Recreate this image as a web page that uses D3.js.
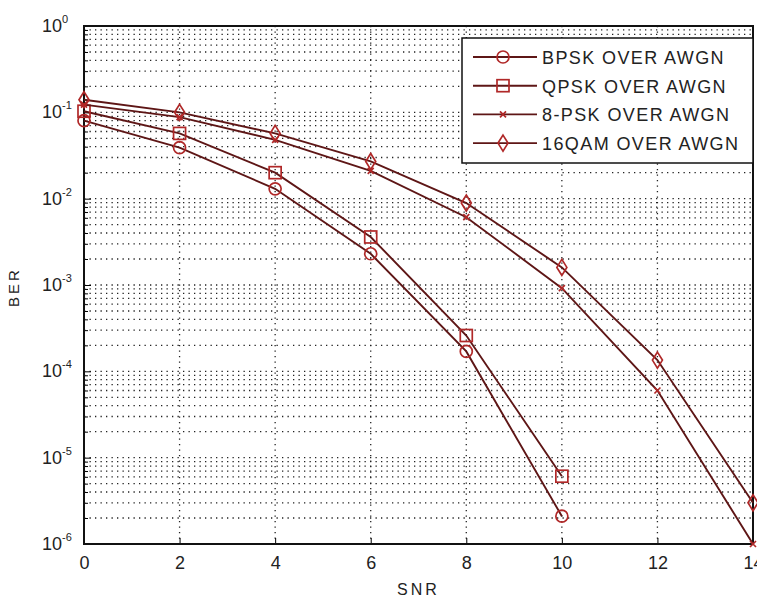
<!DOCTYPE html>
<html>
<head>
<meta charset="utf-8">
<script src="https://cdn.jsdelivr.net/npm/d3@7"></script>
<style>
  body { margin: 0; background: #fff; }
  text { font-family: "Liberation Sans", Arial, sans-serif; fill: #222; }
</style>
</head>
<body>
<svg id="chart" width="757" height="601"></svg>
<script>
// data
const snr = [0, 2, 4, 6, 8, 10, 12, 14];
const bpsk = [0.08, 0.039, 0.013, 0.0023, 0.00017, 2.1e-6];
const qpsk = [0.103, 0.057, 0.02, 0.0036, 0.00026, 6.1e-6];
const psk8 = [0.123, 0.088, 0.048, 0.021, 0.0061, 0.00092, 6e-5, 1e-6];
const qam16 = [0.14, 0.1, 0.057, 0.027, 0.0089, 0.0016, 1.35e-4, 3.0e-6];
const seriesNames = ["BPSK OVER AWGN", "QPSK OVER AWGN", "8-PSK OVER AWGN", "16QAM OVER AWGN"];
const xTicks = [0, 2, 4, 6, 8, 10, 12, 14];
const yExp = [0, -1, -2, -3, -4, -5, -6];

var margin = {top: 26, left: 84, right: 4, bottom: 57};
var width = 757 - margin.left - margin.right;
var height = 601 - margin.top - margin.bottom;

var svg = d3.select("#chart")
  .append("g")
  .attr("transform", "translate(" + margin.left + "," + margin.top + ")");

var x = d3.scaleLinear().domain([0, 14]).range([0, width]);
var y = d3.scaleLog().domain([1e-6, 1]).range([height, 0]);

//minor log values for grid
var minorVals = [];
yExp.slice(1).forEach(function(e) {
  for (var k = 2; k <= 9; k++) minorVals.push(k * Math.pow(10, e));
});

//horizontal grid
svg.append("g").selectAll("line")
  .data(minorVals.concat(yExp.map(function(e){ return Math.pow(10, e); })))
  .enter().append("line")
  .attr("x1", 0).attr("x2", width)
  .attr("y1", function(d){ return y(d); })
  .attr("y2", function(d){ return y(d); })
  .style("stroke", "#222")
  .style("stroke-width", 1.3)
  .style("stroke-dasharray", "1.3,4.2");

//vertical grid
svg.append("g").selectAll("line")
  .data(xTicks)
  .enter().append("line")
  .attr("x1", function(d){ return x(d); })
  .attr("x2", function(d){ return x(d); })
  .attr("y1", 0).attr("y2", height)
  .style("stroke", "#222")
  .style("stroke-width", 1.3)
  .style("stroke-dasharray", "1.3,4.2");

//axes, ticks inward
var xAxis = svg.append("g")
  .attr("transform", "translate(0," + height + ")")
  .call(d3.axisBottom(x).tickValues(xTicks).tickSize(-6).tickPadding(12).tickFormat(d3.format("d")));
xAxis.select(".domain").remove();
xAxis.selectAll("text").style("font-size", "18px").attr("fill", "#222");

var yAxis = svg.append("g")
  .call(d3.axisLeft(y).tickValues(minorVals).tickSize(-4).tickFormat(""));
yAxis.select(".domain").remove();
var yMajor = svg.append("g")
  .call(d3.axisLeft(y).tickValues(yExp.map(function(e){ return Math.pow(10, e); })).tickSize(-7).tickFormat(""));
yMajor.select(".domain").remove();

//y tick labels with superscript
var ylab = svg.append("g").selectAll("text")
  .data(yExp)
  .enter().append("text")
  .attr("x", -42)
  .attr("y", function(d){ return y(Math.pow(10, d)) + 6; })
  .style("font-size", "18px");
ylab.append("tspan").text("10");
ylab.append("tspan")
  .attr("dy", -9)
  .style("font-size", "11px")
  .text(function(d){ return d; });

//frame
svg.append("rect")
  .attr("width", width).attr("height", height)
  .style("fill", "none")
  .style("stroke", "#111")
  .style("stroke-width", 2);

//labels
svg.append("text")
  .attr("x", x(7)).attr("y", height + 51)
  .attr("text-anchor", "middle")
  .style("font-size", "16px")
  .style("letter-spacing", "3px")
  .text("SNR");
svg.append("text")
  .attr("transform", "translate(" + (-65) + "," + (y(1e-3) + 2) + ") rotate(-90)")
  .attr("text-anchor", "middle")
  .style("font-size", "15px")
  .style("letter-spacing", "3px")
  .text("BER");

//lines and markers
var allSeries = [bpsk, qpsk, psk8, qam16];
var symbols = ["circle", "square", "cross", "diamond"];
var lineColor = "#5e1616";
var markColor = "#b02828";

var line = d3.line()
  .x(function(d, i){ return x(snr[i]); })
  .y(function(d){ return y(d); });

function drawMarker(g, kind) {
  g.style("fill", "none").style("stroke", markColor).style("stroke-width", 1.7);
  if (kind == "circle") g.append("circle").attr("r", 6);
  else if (kind == "square") g.append("rect").attr("x", -6).attr("y", -6).attr("width", 12).attr("height", 12);
  else if (kind == "cross") g.append("path").attr("d", "M-3,-3L3,3M-3,3L3,-3");
  else g.append("path").attr("d", "M0,-8L5,0L0,8L-5,0Z");
}

allSeries.forEach(function(s, k) {
  svg.append("path")
    .datum(s)
    .style("fill", "none")
    .style("stroke", lineColor)
    .style("stroke-width", 1.9)
    .attr("d", line);
  svg.append("g").selectAll("g")
    .data(s)
    .enter().append("g")
    .attr("transform", function(d, i){ return "translate(" + x(snr[i]) + "," + y(d) + ")"; })
    .each(function(){ drawMarker(d3.select(this), symbols[k]); });
});

//legend
var lg = svg.append("g").attr("transform", "translate(" + (462 - margin.left) + "," + (38 - margin.top) + ")");
lg.append("rect")
  .attr("width", 291).attr("height", 125)
  .style("fill", "#fff")
  .style("stroke", "#111")
  .style("stroke-width", 1.5);
seriesNames.forEach(function(name, k) {
  var row = lg.append("g").attr("transform", "translate(0," + (19 + k * 28.7) + ")");
  row.append("line")
    .attr("x1", 11).attr("x2", 75)
    .style("stroke", lineColor)
    .style("stroke-width", 1.9);
  drawMarker(row.append("g").attr("transform", "translate(41,0)"), symbols[k]);
  row.append("text")
    .attr("x", 80).attr("y", 7)
    .style("font-size", "18px")
    .style("letter-spacing", "1.4px")
    .text(name);
});
</script>
</body>
</html>
